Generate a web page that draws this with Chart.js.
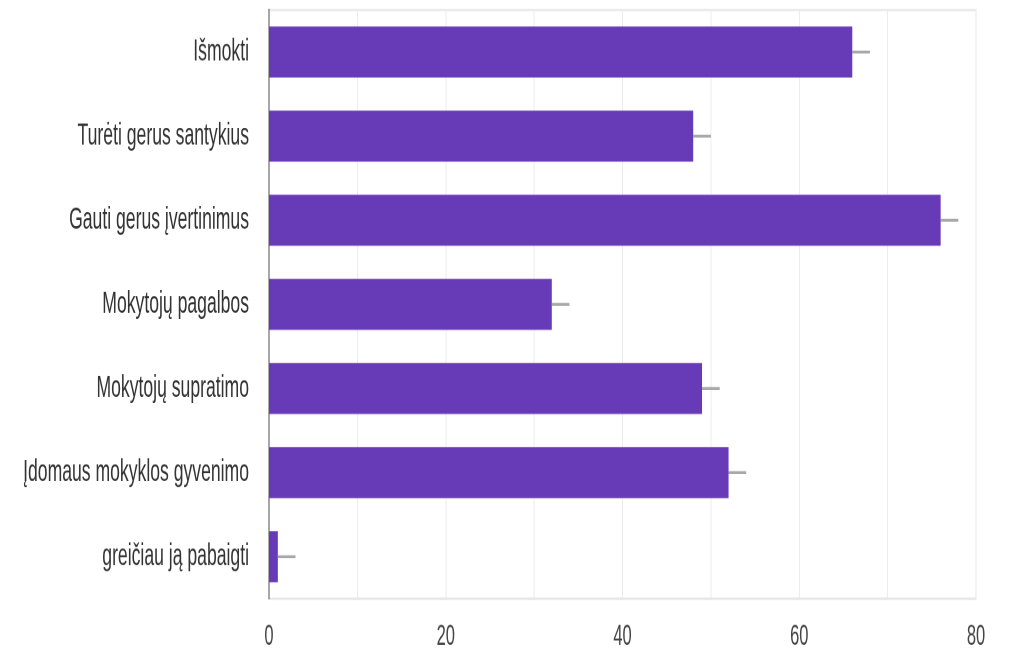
<!DOCTYPE html>
<html>
<head>
<meta charset="utf-8">
<script src="https://cdn.jsdelivr.net/npm/chart.js@4"></script>
<style>
  html, body { margin: 0; padding: 0; background: #fff; overflow: hidden; }
  #wrap { position: absolute; left: 0; top: 0; width: 1015px; transform-origin: 0 0; }
</style>
</head>
<body>
<div id="wrap"><canvas id="myChart"></canvas></div>
<script>
const categories = [
  "Išmokti",
  "Turėti gerus santykius",
  "Gauti gerus įvertinimus",
  "Mokytojų pagalbos",
  "Mokytojų supratimo",
  "Įdomaus mokyklos gyvenimo",
  "greičiau ją pabaigti"
];
const values = [66, 48, 76, 32, 49, 52, 1];
const errors = [2, 2, 2, 2, 2, 2, 2];
const xTicks = [0, 20, 40, 60, 80];

// the reference is stretched vertically, so draw short and scale up
const S = 1.75;
const H = 652 / S;
const wrap = document.getElementById("wrap");
wrap.style.height = H + "px";
wrap.style.transform = "scaleY(" + S + ")";

const frame = {
  id: "frame",
  beforeDraw(chart) {
    const { ctx, chartArea: a } = chart;
    ctx.save();
    ctx.strokeStyle = "#e6e6e6";
    ctx.lineWidth = 1.2;
    ctx.strokeRect(a.left, a.top, a.right - a.left, a.bottom - a.top);
    ctx.restore();
  }
};

const errorBars = {
  id: "errorBars",
  afterDatasetsDraw(chart) {
    const { ctx, scales } = chart;
    const meta = chart.getDatasetMeta(0);
    ctx.save();
    ctx.strokeStyle = "#a8a8a8";
    ctx.lineWidth = 1.6;
    meta.data.forEach((bar, i) => {
      const x0 = scales.x.getPixelForValue(values[i]);
      const x1 = scales.x.getPixelForValue(values[i] + errors[i]);
      ctx.beginPath();
      ctx.moveTo(x0, bar.y);
      ctx.lineTo(x1, bar.y);
      ctx.stroke();
    });
    ctx.restore();
  }
};

new Chart("myChart", {
  type: "bar",
  data: {
    labels: categories,
    datasets: [
      {
        data: values,
        backgroundColor: "#673ab7",
        borderWidth: 0,
        barPercentage: 0.607,
        categoryPercentage: 1
      }
    ]
  },
  options: {
    indexAxis: "y",
    responsive: true,
    maintainAspectRatio: false,
    animation: false,
    devicePixelRatio: 2,
    layout: { padding: { top: 5.7, right: 39, left: 0, bottom: 0 } },
    plugins: {
      legend: { display: false },
      tooltip: { enabled: false }
    },
    scales: {
      x: {
        min: 0,
        max: 80,
        ticks: {
          stepSize: 10,
          padding: 12,
          color: "#444",
          font: { family: "Arial, 'Liberation Sans', sans-serif", size: 16.5 },
          callback: (v) => (xTicks.includes(v) ? String(v) : "")
        },
        grid: { color: "#ececec", drawTicks: false, lineWidth: 1 },
        border: { display: true, color: "#e6e6e6" },
        afterFit: (scale) => {
          scale.height = H - 341.7;
          scale.paddingLeft = 0;
          scale.paddingRight = 0;
        }
      },
      y: {
        ticks: {
          padding: 20,
          color: "#333",
          font: { family: "Arial, 'Liberation Sans', sans-serif", size: 17.6 }
        },
        grid: { display: false, drawTicks: false },
        border: { display: true, color: "#555", width: 1 },
        afterFit: (scale) => {
          scale.width = 269;
          scale.paddingTop = 0;
          scale.paddingBottom = 0;
        }
      }
    }
  },
  plugins: [frame, errorBars]
});
</script>
</body>
</html>
